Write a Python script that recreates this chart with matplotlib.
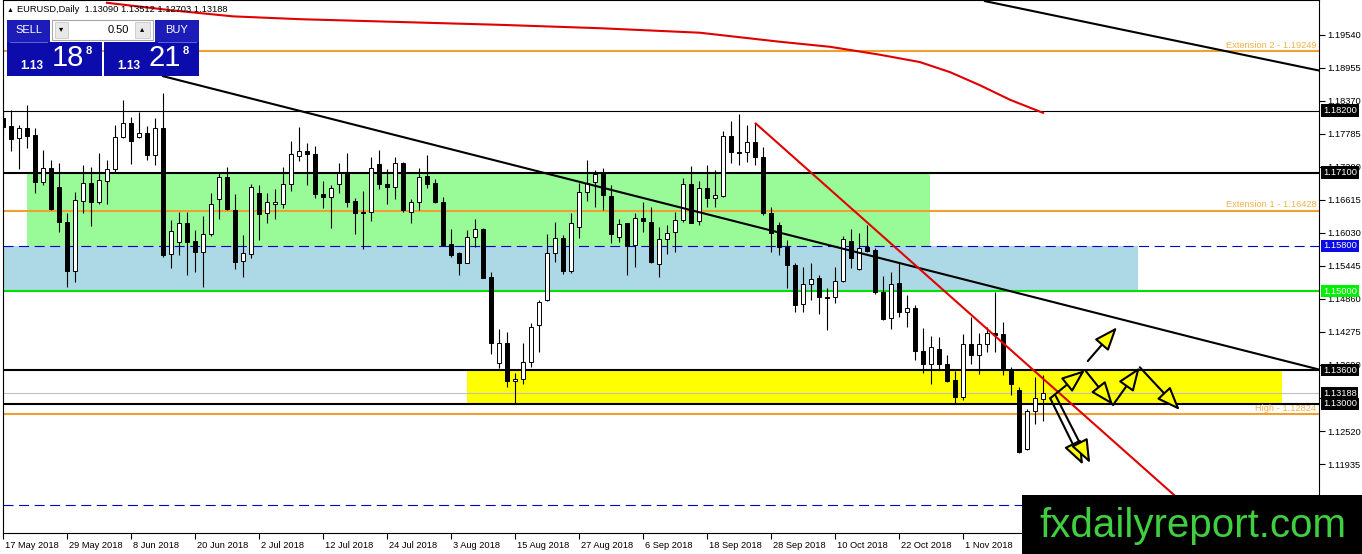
import numpy as np
import matplotlib
matplotlib.use('Agg')
import matplotlib.pyplot as plt
from matplotlib.patches import Rectangle
import matplotlib.transforms as mtransforms

plt.rcParams['font.family'] = ['Liberation Sans', 'DejaVu Sans']

# EURUSD daily bars, 17 May 2018 .. 15 Nov 2018
opens = [1.1807, 1.1793, 1.1771, 1.1789, 1.1777, 1.1693, 1.1718, 1.1684, 1.1622, 1.1536,
         1.1660, 1.1692, 1.1658, 1.1695, 1.1716, 1.1773, 1.1798, 1.1773, 1.1780, 1.1741,
         1.1789, 1.1566, 1.1587, 1.1621, 1.1589, 1.1569, 1.1601, 1.1663, 1.1702, 1.1644,
         1.1553, 1.1566, 1.1674, 1.1638, 1.1654, 1.1654, 1.1690, 1.1739, 1.1748, 1.1743,
         1.1672, 1.1667, 1.1690, 1.1709, 1.1660, 1.1640, 1.1640, 1.1725, 1.1690, 1.1684,
         1.1727, 1.1640, 1.1658, 1.1704, 1.1692, 1.1658, 1.1584, 1.1567, 1.1550, 1.1596,
         1.1610, 1.1525, 1.1372, 1.1408, 1.1340, 1.1344, 1.1374, 1.1440, 1.1484, 1.1567,
         1.1594, 1.1536, 1.1614, 1.1676, 1.1693, 1.1709, 1.1669, 1.1596, 1.1621, 1.1582,
         1.1630, 1.1622, 1.1548, 1.1592, 1.1605, 1.1626, 1.1690, 1.1624, 1.1683, 1.1665,
         1.1669, 1.1775, 1.1747, 1.1747, 1.1764, 1.1738, 1.1638, 1.1617, 1.1578, 1.1546,
         1.1477, 1.1512, 1.1523, 1.1489, 1.1489, 1.1518, 1.1589, 1.1539, 1.1578, 1.1573,
         1.1498, 1.1452, 1.1514, 1.1463, 1.1470, 1.1394, 1.1371, 1.1397, 1.1371, 1.1342,
         1.1312, 1.1406, 1.1387, 1.1406, 1.1426, 1.1424, 1.1360, 1.1325, 1.1220, 1.1287,
         1.13090]
highs = [1.1821, 1.1821, 1.1794, 1.1830, 1.1789, 1.1750, 1.1732, 1.1727, 1.1638, 1.1676,
         1.1723, 1.1720, 1.1745, 1.1732, 1.1794, 1.1839, 1.1809, 1.1817, 1.1793, 1.1807,
         1.1851, 1.1626, 1.1640, 1.1640, 1.1608, 1.1633, 1.1674, 1.1711, 1.1720, 1.1672,
         1.1599, 1.1690, 1.1688, 1.1674, 1.1681, 1.1720, 1.1766, 1.1791, 1.1762, 1.1757,
         1.1695, 1.1688, 1.1727, 1.1745, 1.1665, 1.1677, 1.1738, 1.1750, 1.1716, 1.1738,
         1.1729, 1.1663, 1.1718, 1.1741, 1.1699, 1.1667, 1.1610, 1.1569, 1.1608, 1.1628,
         1.1612, 1.1534, 1.1433, 1.1427, 1.1355, 1.1408, 1.1443, 1.1484, 1.1601, 1.1622,
         1.1599, 1.1638, 1.1692, 1.1732, 1.1715, 1.1718, 1.1688, 1.1628, 1.1621, 1.1638,
         1.1658, 1.1649, 1.1614, 1.1617, 1.1640, 1.1700, 1.1722, 1.1695, 1.1723, 1.1715,
         1.1784, 1.1801, 1.1814, 1.1794, 1.1798, 1.1755, 1.1649, 1.1622, 1.1590, 1.1550,
         1.1543, 1.1550, 1.1528, 1.1505, 1.1543, 1.1598, 1.1610, 1.1603, 1.1617, 1.1576,
         1.1527, 1.1534, 1.1550, 1.1493, 1.1475, 1.1434, 1.1420, 1.1419, 1.1387, 1.1358,
         1.1424, 1.1454, 1.1426, 1.1436, 1.1498, 1.1445, 1.1365, 1.1330, 1.1291, 1.1348,
         1.13512]
lows = [1.1777, 1.1748, 1.1716, 1.1754, 1.1674, 1.1688, 1.1644, 1.1605, 1.1507, 1.1516,
        1.1638, 1.1615, 1.1654, 1.1654, 1.1711, 1.1771, 1.1725, 1.1771, 1.1732, 1.1723,
        1.1560, 1.1541, 1.1564, 1.1528, 1.1534, 1.1507, 1.1598, 1.1628, 1.1644, 1.1539,
        1.1525, 1.1559, 1.1591, 1.1621, 1.1628, 1.1647, 1.1677, 1.1731, 1.1688, 1.1665,
        1.1647, 1.1612, 1.1674, 1.1649, 1.1601, 1.1575, 1.1624, 1.1681, 1.1654, 1.1663,
        1.1640, 1.1621, 1.1644, 1.1683, 1.1656, 1.1580, 1.1560, 1.1528, 1.1550, 1.1578,
        1.1523, 1.1388, 1.1364, 1.1330, 1.1301, 1.1335, 1.1365, 1.1392, 1.1482, 1.1551,
        1.1530, 1.1532, 1.1594, 1.1660, 1.1649, 1.1644, 1.1585, 1.1587, 1.1528, 1.1543,
        1.1605, 1.1550, 1.1525, 1.1566, 1.1569, 1.1622, 1.1621, 1.1617, 1.1649, 1.1649,
        1.1667, 1.1727, 1.1723, 1.1729, 1.1723, 1.1635, 1.1569, 1.1564, 1.1505, 1.1463,
        1.1463, 1.1484, 1.1459, 1.1431, 1.1479, 1.1516, 1.1541, 1.1537, 1.1569, 1.1495,
        1.1449, 1.1433, 1.1454, 1.1436, 1.1378, 1.1355, 1.1335, 1.1360, 1.1339, 1.1301,
        1.1307, 1.1371, 1.1353, 1.1392, 1.1392, 1.1351, 1.1316, 1.1213, 1.1218, 1.1264,
        1.12703]
closes = [1.1791, 1.1770, 1.1789, 1.1775, 1.1693, 1.1718, 1.1645, 1.1622, 1.1536, 1.1661,
          1.1692, 1.1658, 1.1697, 1.1716, 1.1773, 1.1798, 1.1766, 1.1780, 1.1741, 1.1789,
          1.1564, 1.1606, 1.1621, 1.1587, 1.1569, 1.1601, 1.1654, 1.1702, 1.1645, 1.1551,
          1.1567, 1.1684, 1.1637, 1.1658, 1.1658, 1.1690, 1.1743, 1.1748, 1.1743, 1.1672,
          1.1667, 1.1683, 1.1709, 1.1658, 1.1639, 1.1638, 1.1718, 1.1690, 1.1684, 1.1727,
          1.1644, 1.1658, 1.1702, 1.1690, 1.1658, 1.1582, 1.1564, 1.1550, 1.1596, 1.1610,
          1.1523, 1.1408, 1.1408, 1.1340, 1.1344, 1.1374, 1.1436, 1.1481, 1.1567, 1.1594,
          1.1536, 1.1621, 1.1676, 1.1692, 1.1708, 1.1670, 1.1601, 1.1619, 1.1580, 1.1630,
          1.1624, 1.1551, 1.1592, 1.1603, 1.1626, 1.1690, 1.1621, 1.1683, 1.1665, 1.1670,
          1.1775, 1.1747, 1.1745, 1.1764, 1.1738, 1.1638, 1.1603, 1.1578, 1.1546, 1.1475,
          1.1512, 1.1521, 1.1489, 1.1488, 1.1518, 1.1592, 1.1559, 1.1576, 1.1571, 1.1498,
          1.1450, 1.1512, 1.1463, 1.1470, 1.1394, 1.1371, 1.1401, 1.1371, 1.1340, 1.1312,
          1.1406, 1.1387, 1.1406, 1.1426, 1.1422, 1.1360, 1.1335, 1.1215, 1.1287, 1.1310,
          1.13188]

tick_labels = ["17 May 2018", "29 May 2018", "8 Jun 2018", "20 Jun 2018", "2 Jul 2018",
               "12 Jul 2018", "24 Jul 2018", "3 Aug 2018", "15 Aug 2018", "27 Aug 2018",
               "6 Sep 2018", "18 Sep 2018", "28 Sep 2018", "10 Oct 2018", "22 Oct 2018",
               "1 Nov 2018"]
tick_bars = list(range(0, 8 * len(tick_labels), 8))
ytick_vals = [1.19540, 1.18955, 1.18370, 1.17785, 1.17200, 1.16615, 1.16030, 1.15445,
              1.14860, 1.14275, 1.13690, 1.13105, 1.12520, 1.11935, 1.11350]
# scale labels that sit fully under a price box on the screenshot
ytick_hidden = [1.13105]

# moving average (red curve) sampled along the chart: bar index, price
ma_bar = [13.0, 20.9, 28.75, 37.1, 49.6, 62.1, 74.6, 87.1, 97.1, 103.4, 109.6, 114.6, 118.4, 122.1, 125.9, 130.0]
ma_val = [1.2011, 1.1998, 1.1987, 1.1982, 1.1977, 1.1972, 1.1966, 1.1958, 1.1942, 1.1933, 1.1919, 1.1906, 1.1888, 1.1865, 1.1839, 1.1816]

# trend lines: (bar0, price0, bar1, price1)
trend_top = (122.75, 1.2014, 164.5, 1.1891)
trend_long = (20.0, 1.1881, 164.5, 1.1361)
trend_red = (94.1, 1.1797, 150.0, 1.1093)

# zones: bar0, bar1, price low, price high
zone_green = (3.0, 115.9, 1.1580, 1.1710)
zone_blue = (-5.0, 141.9, 1.1500, 1.1580)
zone_yellow = (58.0, 159.9, 1.1300, 1.1360)

# horizontal levels
lvl_thin = 1.18200
lvl_black = [1.17100, 1.13600, 1.13000]
lvl_blue = 1.15800
lvl_blue_low = 1.1120
lvl_green = 1.15000
lvl_bid = 1.13188
fibo = [(1.19249, "Extension 2 - 1.19249"), (1.16428, "Extension 1 - 1.16428"), (1.12824, "High - 1.12824")]

# projected path arrows
zig_bar = [130.9, 135.25, 138.75, 142.1, 147.1]
zig_val = [1.1310, 1.1360, 1.1298, 1.1365, 1.1289]
up_arrow = (135.6, 1.1376, 139.25, 1.1436)
down_arrows = [(130.9, 1.1310, 135.0, 1.1192), (131.6, 1.1314, 135.9, 1.1195)]

W, H = 1362, 554
fig = plt.figure(figsize=(W / 100, H / 100), dpi=100)
ax = fig.add_axes([3 / W, 21 / H, 1316 / W, 533 / H])
ax.set_xlim(0, 164.5)
ax.set_ylim(1.10712, 1.20160)

for z, col in [(zone_green, '#98fb98'), (zone_blue, '#add8e6'), (zone_yellow, '#ffff00')]:
    ax.add_patch(Rectangle((z[0], z[2]), z[1] - z[0], z[3] - z[2], fc=col, ec='none', zorder=1))

ax.axhline(lvl_thin, color='black', lw=0.8, zorder=2)
for v in lvl_black:
    ax.axhline(v, color='black', lw=1.5, zorder=2)
ax.axhline(lvl_blue, color='#0000c8', lw=0.8, ls=(0, (9, 5)), zorder=2)
ax.axhline(lvl_blue_low, color='#0000c8', lw=0.8, ls=(0, (9, 5)), zorder=2)
ax.axhline(lvl_green, color='#00e000', lw=1.5, zorder=2)
ax.axhline(lvl_bid, color='#c0c0c0', lw=0.8, zorder=2)
yx = mtransforms.blended_transform_factory(ax.transAxes, ax.transData)
for v, txt in fibo:
    ax.axhline(v, color='#f0a030', lw=1.5, zorder=2)
    ax.text(0.998, v + 0.0002, txt, transform=yx, ha='right', va='bottom',
            fontsize=6.7, color='#f0b24a', zorder=2)

# candles
bars = np.arange(len(opens))
o = np.array(opens); h = np.array(highs); l = np.array(lows); c = np.array(closes)
ax.vlines(bars, l, h, color='black', lw=0.8, zorder=3)
for i in bars:
    lo, hi = min(o[i], c[i]), max(o[i], c[i])
    ax.add_patch(Rectangle((i - 0.31, lo), 0.62, max(hi - lo, 0.00012),
                           fc='black' if c[i] < o[i] else 'white', ec='black', lw=0.7, zorder=4))

ax.plot(ma_bar, ma_val, color='#e00000', lw=1.5, zorder=5)
for t, col in [(trend_top, 'black'), (trend_long, 'black'), (trend_red, '#e00000')]:
    ax.plot([t[0], t[2]], [t[1], t[3]], color=col, lw=1.5, zorder=5)

aprops = dict(arrowstyle='-|>,head_length=0.9,head_width=0.35', fc='yellow', ec='black',
              lw=1.5, mutation_scale=16, shrinkA=0, shrinkB=0)
for k in range(len(zig_bar) - 1):
    ax.annotate('', xy=(zig_bar[k + 1], zig_val[k + 1]), xytext=(zig_bar[k], zig_val[k]),
                arrowprops=aprops, zorder=6)
for a in [up_arrow] + down_arrows:
    ax.annotate('', xy=(a[2], a[3]), xytext=(a[0], a[1]), arrowprops=aprops, zorder=6)

# axes
ax.yaxis.tick_right()
ax.set_yticks(ytick_vals)
ax.set_yticklabels(['' if v in ytick_hidden else '%.5f' % v for v in ytick_vals])
ax.set_xticks(tick_bars)
ax.set_xticklabels(tick_labels, ha='left')
ax.tick_params(axis='both', direction='out', length=4, width=0.8, labelsize=6.7, pad=2, colors='black')
offset = mtransforms.ScaledTranslation(2 / 100, 0, fig.dpi_scale_trans)
for lab in ax.get_xticklabels():
    lab.set_transform(lab.get_transform() + offset)
for s in ax.spines.values():
    s.set_linewidth(0.8)

# price boxes on the right scale
for v, fc, tc in [(lvl_thin, 'black', 'white'), (1.17100, 'black', 'white'), (lvl_blue, '#0a0ae6', 'white'),
                  (lvl_green, '#00ee00', 'white'), (1.13600, 'black', 'white'),
                  (lvl_bid, 'black', 'white'), (1.13000, 'black', 'white')]:
    ax.text(1.0 + 4 / 1316, v, '%.5f' % v, transform=yx, ha='left', va='center', fontsize=6.7,
            color=tc, clip_on=False, zorder=10,
            bbox=dict(boxstyle='square,pad=0.18', fc=fc, ec='none'))

# overlay in pixel coords: header, trade panel, watermark
ov = fig.add_axes([0, 0, 1, 1])
ov.set_xlim(0, W)
ov.set_ylim(H, 0)
ov.axis('off')

ov.text(7, 10, '\u25b2', fontsize=5, ha='left', va='center')
ov.text(17, 10, 'EURUSD,Daily  %.5f %.5f %.5f %.5f' % (opens[-1], highs[-1], lows[-1], closes[-1]),
        fontsize=6.7, ha='left', va='center')

blue_top = '#1c1cb8'
blue_big = '#0c0cac'
ov.add_patch(Rectangle((7, 20), 43, 22, fc=blue_top, ec='none'))
ov.add_patch(Rectangle((155, 20), 44, 22, fc=blue_top, ec='none'))
ov.add_patch(Rectangle((52, 20), 101, 20, fc='white', ec='#a8a8a8', lw=0.8))
ov.add_patch(Rectangle((55, 22), 13, 16, fc='#e8e8e8', ec='#c8c8c8', lw=0.6))
ov.add_patch(Rectangle((135, 22), 15, 16, fc='#e8e8e8', ec='#c8c8c8', lw=0.6))
ov.text(61.5, 30, '\u25be', fontsize=6, ha='center', va='center')
ov.text(142.5, 30, '\u25b4', fontsize=6, ha='center', va='center')
ov.text(129, 30, '0.50', fontsize=8, ha='right', va='center')
ov.text(28.5, 30, 'SELL', fontsize=8, color='white', ha='center', va='center')
ov.text(177, 30, 'BUY', fontsize=8, color='white', ha='center', va='center')
ov.plot([10, 47], [41.5, 41.5], color='#7070e0', lw=0.6)
ov.plot([158, 196], [41.5, 41.5], color='#7070e0', lw=0.6)
ov.add_patch(Rectangle((7, 42), 95, 34, fc=blue_big, ec='none'))
ov.add_patch(Rectangle((104, 42), 95, 34, fc=blue_big, ec='none'))
for x0, big in [(7, '18'), (104, '21')]:
    ov.text(x0 + 25, 66, '1.13', fontsize=8.5, fontweight='bold', color='white', ha='center', va='center')
    ov.text(x0 + 61, 58, big, fontsize=21, color='white', ha='center', va='center')
    ov.text(x0 + 82, 51, '8', fontsize=8, fontweight='bold', color='white', ha='center', va='center')

ov.add_patch(Rectangle((1022, 495), 340, 59, fc='black', ec='none', zorder=20))
ov.text(1193, 537, 'fxdailyreport.com', fontsize=29, color='#3fcf3f', ha='center', va='baseline', zorder=21)

fig.savefig('out.png', dpi=100)
